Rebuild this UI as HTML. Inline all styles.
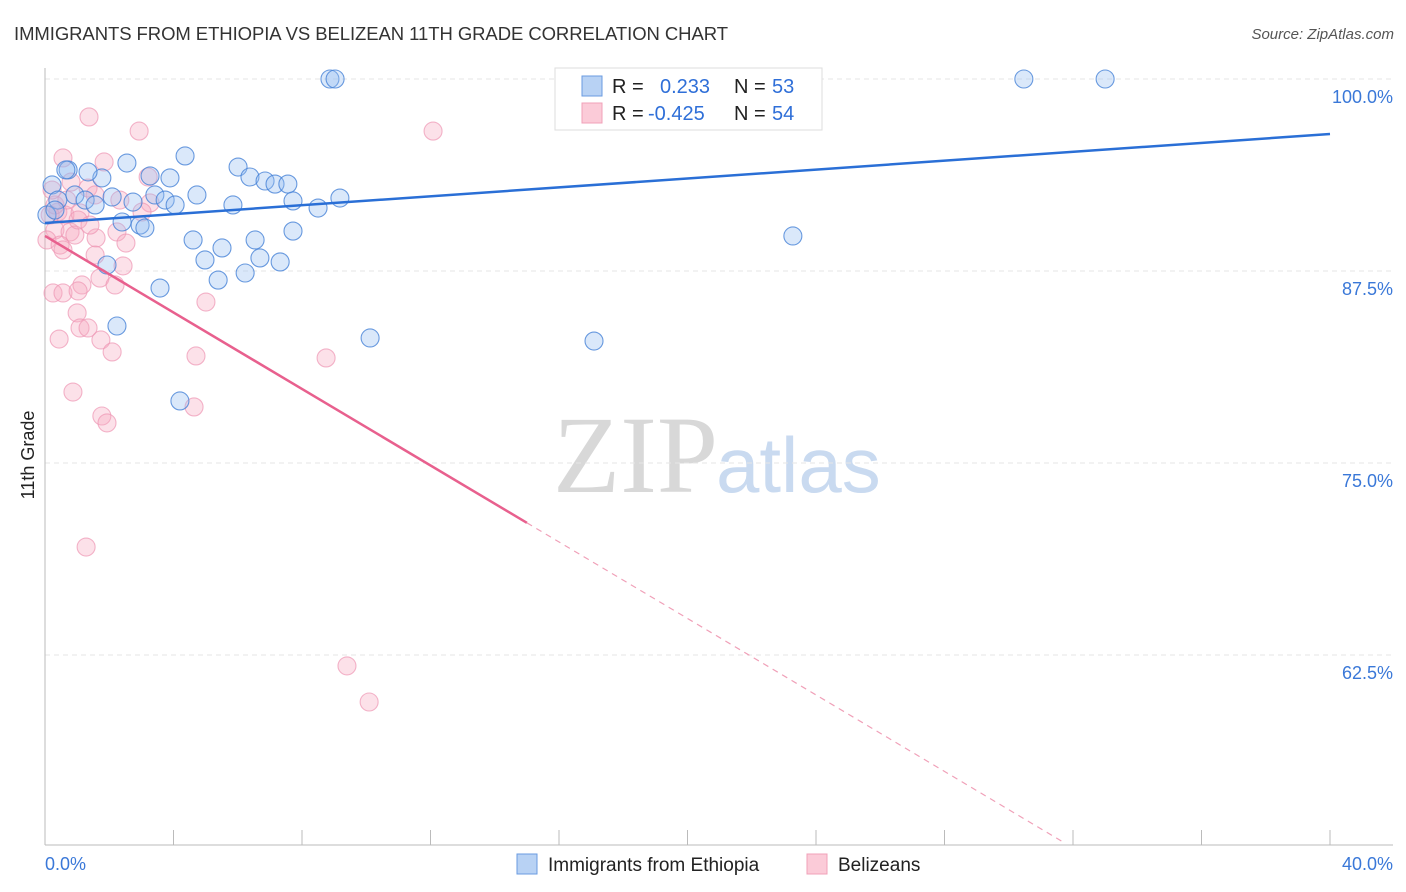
<!DOCTYPE html>
<html><head><meta charset="utf-8"><style>
body{margin:0;background:#fff;font-family:"Liberation Sans",sans-serif;}
#wrap{position:relative;width:1406px;height:892px;overflow:hidden;}
</style></head><body>
<div id="wrap">
<svg id="svg" width="1406" height="892" xmlns="http://www.w3.org/2000/svg">
<text x="14" y="40" font-size="18.5" fill="#333" textLength="714">IMMIGRANTS FROM ETHIOPIA VS BELIZEAN 11TH GRADE CORRELATION CHART</text>
<text x="1394" y="39" font-size="15" fill="#555" text-anchor="end" font-style="italic">Source: ZipAtlas.com</text>
<text x="553" y="492" font-size="110" fill="#d8d8d8" font-family="Liberation Serif,serif">ZIP</text>
<text x="716" y="492" font-size="78" fill="#c9daf0">atlas</text>
<text transform="translate(34,455) rotate(-90)" font-size="18" fill="#222" text-anchor="middle">11th Grade</text>
<g id="grid"></g><g id="ticks"></g><g id="pts"></g><g id="lines"></g>
<g>
<rect x="555" y="68" width="267" height="62" fill="#fff" stroke="#ddd"/>
<rect x="582" y="76" width="20" height="20" fill="#b8d2f4" stroke="#6a9be0"/>
<rect x="582" y="103" width="20" height="20" fill="#fbcbd8" stroke="#f0a0b8"/>
<text x="612" y="93" font-size="20" fill="#222">R =</text><text x="660" y="93" font-size="20" fill="#2f6fd8">0.233</text>
<text x="734" y="93" font-size="20" fill="#222">N =</text><text x="772" y="93" font-size="20" fill="#2f6fd8">53</text>
<text x="612" y="120" font-size="20" fill="#222">R =</text><text x="648" y="120" font-size="20" fill="#2f6fd8">-0.425</text>
<text x="734" y="120" font-size="20" fill="#222">N =</text><text x="772" y="120" font-size="20" fill="#2f6fd8">54</text>
</g>
<g>
<rect x="517" y="854" width="20" height="20" fill="#b8d2f4" stroke="#6a9be0"/>
<text x="548" y="871" font-size="19" fill="#222">Immigrants from Ethiopia</text>
<rect x="807" y="854" width="20" height="20" fill="#fbcbd8" stroke="#f0a0b8"/>
<text x="838" y="871" font-size="19" fill="#222">Belizeans</text>
</g>
</svg>
<script>
const yTicks=[100,87.5,75,62.5];
const xTickLabels=["0.0%","40.0%"];
const blueX=[0.22,0.40,0.72,0.93,1.25,1.56,1.77,2.09,2.55,2.74,2.96,3.11,3.27,3.42,3.74,3.89,4.05,4.36,4.61,4.73,4.98,5.39,5.51,5.85,6.01,6.23,6.38,6.54,6.69,6.85,7.16,7.32,7.56,7.72,7.72,8.50,9.18,8.87,9.03,1.93,2.24,3.58,4.20,10.12,17.09,23.28,30.47,33.00,2.40,0.06,0.31,0.65,1.34];
const blueY=[93.10,92.12,94.08,92.45,92.12,91.80,93.56,92.32,94.53,91.99,90.49,90.30,93.69,92.45,92.12,93.56,91.80,94.99,89.52,92.45,88.22,86.91,89.00,91.80,94.27,87.37,93.62,89.52,88.35,93.36,93.16,88.09,93.16,92.06,90.10,91.60,92.25,100,100,87.89,83.92,86.39,79.04,83.14,82.94,89.78,100,100,90.69,91.15,91.47,94.08,93.95];
const pinkX=[1.37,2.93,12.08,0.56,1.84,0.81,1.34,1.56,3.21,3.27,3.02,0.40,0.62,1.09,0.16,0.31,0.78,0.93,1.59,2.24,2.52,0.06,0.47,0.56,1.56,2.43,1.71,1.15,2.18,0.25,0.56,1.03,5.01,1.00,1.09,1.34,0.44,1.74,2.09,4.70,8.75,0.87,1.77,1.93,4.64,1.28,9.40,10.09,0.31,0.68,2.33,1.03,1.40,0.22];
const pinkY=[97.53,96.61,96.61,94.86,94.60,93.29,92.90,92.45,93.62,91.93,91.34,91.34,91.15,91.28,91.15,90.17,90.04,89.84,89.65,90.04,89.32,89.52,89.19,88.87,88.54,87.83,87.04,86.59,86.59,86.07,86.07,86.20,85.48,84.77,83.79,83.79,83.07,83.01,82.23,81.97,81.84,79.62,78.06,77.61,78.65,69.53,61.79,59.44,91.80,92.12,92.12,90.82,90.49,92.77];
const blueTrend=[90.625,96.42];
const pinkTrend=[89.78,-1.245];
const xs=v=>45+v*1285/40, ys=v=>79+(100-v)*192/12.5;
const NS="http://www.w3.org/2000/svg";
function mk(g,t,a){const e=document.createElementNS(NS,t);for(const k in a)e.setAttribute(k,a[k]);document.getElementById(g).appendChild(e);return e;}
yTicks.forEach(t=>{
 const l=mk('grid','line',{x1:45,x2:1393,y1:ys(t),y2:ys(t),stroke:'#e6e6e6','stroke-dasharray':'5,4'});
 
 
 const tx=mk('ticks','text',{x:1393,y:ys(t)+24,'font-size':18,fill:'#3a78d8','text-anchor':'end'});
 tx.textContent=t.toFixed(1)+'%';
 
 
});
mk('ticks','line',{x1:45,x2:45,y1:68,y2:845,stroke:'#bbb'});
mk('ticks','line',{x1:45,x2:1393,y1:845,y2:845,stroke:'#bbb'});
for(let i=0;i<=10;i++){const x=xs(i*4);mk('ticks','line',{x1:x,x2:x,y1:830,y2:845,stroke:'#bbb'});}
const t0=mk('ticks','text',{x:45,y:870,'font-size':18,fill:'#3a78d8'});t0.textContent=xTickLabels[0];


const t1=mk('ticks','text',{x:1393,y:870,'font-size':18,fill:'#3a78d8','text-anchor':'end'});t1.textContent=xTickLabels[1];


pinkX.forEach((x,i)=>{const c=mk('pts','circle',{cx:xs(x),cy:ys(pinkY[i]),r:9,fill:'rgba(246,170,192,0.35)',stroke:'rgba(238,150,180,0.7)','stroke-width':1.1});
 
 });
blueX.forEach((x,i)=>{const c=mk('pts','circle',{cx:xs(x),cy:ys(blueY[i]),r:9,fill:'rgba(150,190,240,0.35)',stroke:'rgba(70,130,215,0.8)','stroke-width':1.1});
 
 });
const bl=mk('lines','line',{x1:xs(0),y1:ys(blueTrend[0]),x2:xs(40),y2:ys(blueTrend[1]),stroke:'#2a6fd6','stroke-width':2.5});


const pf=x=>pinkTrend[0]+pinkTrend[1]*x;
const pl=mk('lines','line',{x1:xs(0),y1:ys(pf(0)),x2:xs(15),y2:ys(pf(15)),stroke:'#e8608e','stroke-width':2.5});


const pd=mk('lines','line',{x1:xs(15),y1:ys(pf(15)),x2:xs(31.66),y2:ys(pf(31.66)),stroke:'#f0a0b8','stroke-width':1.2,'stroke-dasharray':'6,5'});


</script>
</div></body></html>
